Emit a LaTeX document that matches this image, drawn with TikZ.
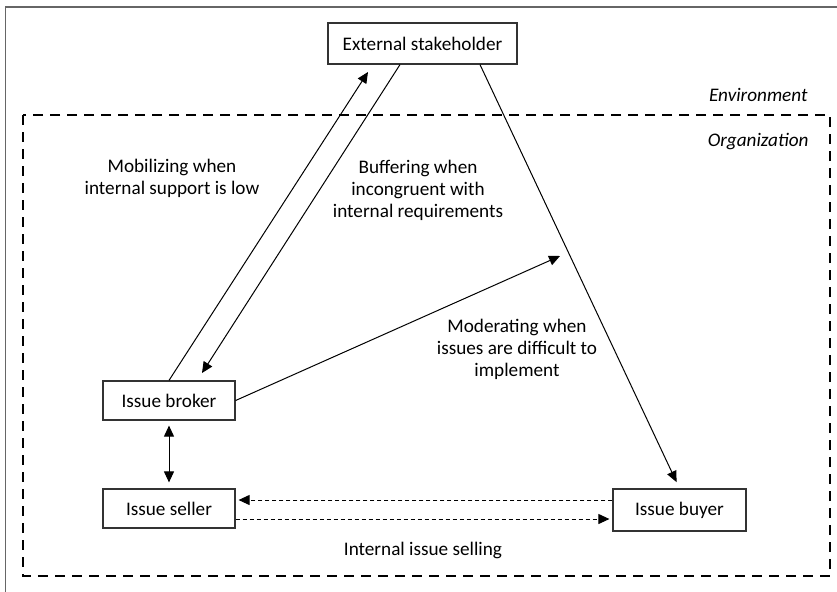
\documentclass[tikz,border=0pt]{standalone}
\usepackage{fontspec}
\setmainfont{Carlito}
\usetikzlibrary{arrows.meta}

\begin{document}
\begin{tikzpicture}[x=0.5pt, y=-0.5pt,
	box/.style={draw=black!80, line width=0.6pt, font=\fontsize{9.6}{11}\selectfont},
	l/.style={align=center, inner sep=0, font=\fontsize{9.6}{11}\selectfont},
	li/.style={l, anchor=east, font=\fontsize{9.6}{11}\selectfont\itshape},
	fine/.style={dash pattern=on 2pt off 1.5pt, shorten >=1.5pt},
	>={Triangle[length=5.5pt,width=5pt]}, line width=0.5pt]
	\useasboundingbox (0,0) rectangle (837,591);
	\draw[black!60, line width=0.8pt] (5.5,600) -- (5.5,7) -- (850,7);
	\draw[line width=1.1pt, dash pattern=on 5pt off 3.5pt] (23,115) rectangle (830,576);

	\node[box, minimum width=94.5pt, minimum height=20.5pt] (stake) at (422.5,43.5) {External stakeholder};
	\node[box, minimum width=66pt, minimum height=19.5pt] (broker) at (169,400.5) {Issue broker};
	\node[box, minimum width=66pt, minimum height=19.5pt] (seller) at (169,508.5) {Issue seller};
	\node[box, minimum width=66.5pt, minimum height=21pt] (buyer) at (679.5,510) {Issue buyer};

	\node[li] (env) at (808,95) {Environment};
	\node[li] (org) at (809,142) {Organization};
	\node[l] (mob) at (172,178) {Mobilizing when\\internal support is low};
	\node[l] (buf) at (418,190) {Buffering when\\incongruent with\\internal requirements};
	\node[l] (mod) at (517,349) {Moderating when\\issues are difficult to\\implement};
	\node[l] (sell) at (423,550) {Internal issue selling};

	\coordinate (mobtip) at (368,72);
	\coordinate (buftip) at (202,373);
	\coordinate (modtip) at (560,256);

	\draw[->] (broker.north) -- (mobtip);
	\draw[->] ([xshift=-11.25pt]stake.south) -- (buftip);
	\draw[->, shorten >=3.5pt] ([xshift=28.75pt]stake.south) -- (buyer.north);
	\draw[->] (broker.east) -- (modtip);
	\draw[<->, shorten <=2.5pt, shorten >=3pt] (broker.south) -- (seller.north);
	\draw[fine, ->] ([yshift=5pt]buyer.west) -- ([yshift=5pt]buyer.west -| seller.east);
	\draw[fine, ->] ([yshift=-5.25pt]seller.east) -- ([yshift=-5.25pt]seller.east -| buyer.west);
\end{tikzpicture}
\end{document}
